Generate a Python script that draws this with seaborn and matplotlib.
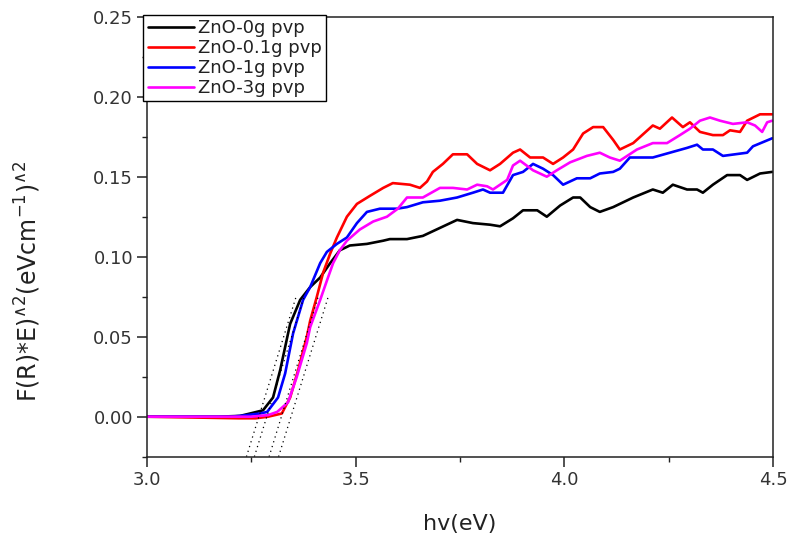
import matplotlib
matplotlib.use("Agg")
import matplotlib.pyplot as plt
import seaborn as sns
import pandas as pd
from matplotlib.ticker import MultipleLocator

# ---------------- data ----------------
labels = ["ZnO-0g pvp", "ZnO-0.1g pvp", "ZnO-1g pvp", "ZnO-3g pvp"]
colors = ["#000000", "#ff0000", "#0000ff", "#ff00ff"]

x_0g = [3.00, 3.17, 3.223, 3.247, 3.278, 3.302, 3.319, 3.338, 3.343, 3.367, 3.391, 3.415,
        3.439, 3.462, 3.486, 3.527, 3.566, 3.582, 3.623, 3.661, 3.702, 3.743, 3.781, 3.822,
        3.846, 3.877, 3.901, 3.935, 3.958, 3.990, 4.021, 4.038, 4.062, 4.085, 4.117, 4.133,
        4.165, 4.212, 4.236, 4.260, 4.294, 4.318, 4.332, 4.356, 4.390, 4.421, 4.438, 4.469, 4.498]
y_0g = [0.000, 0.000, 0.0005, 0.002, 0.004, 0.012, 0.029, 0.052, 0.058, 0.073, 0.081, 0.087,
        0.096, 0.104, 0.107, 0.108, 0.110, 0.111, 0.111, 0.113, 0.118, 0.123, 0.121, 0.120,
        0.119, 0.124, 0.129, 0.129, 0.125, 0.132, 0.137, 0.137, 0.131, 0.128, 0.131, 0.133,
        0.137, 0.142, 0.140, 0.145, 0.142, 0.142, 0.140, 0.145, 0.151, 0.151, 0.148, 0.152, 0.153]

x_01g = [3.00, 3.22, 3.26, 3.29, 3.323, 3.343, 3.362, 3.383, 3.391, 3.407, 3.422, 3.439,
         3.455, 3.479, 3.503, 3.534, 3.566, 3.589, 3.630, 3.654, 3.671, 3.685, 3.709, 3.733,
         3.767, 3.791, 3.822, 3.846, 3.877, 3.894, 3.918, 3.949, 3.973, 3.997, 4.021, 4.045,
         4.069, 4.093, 4.117, 4.133, 4.165, 4.212, 4.229, 4.258, 4.284, 4.301, 4.325, 4.356,
         4.380, 4.397, 4.421, 4.438, 4.469, 4.498]
y_01g = [0.000, -0.001, -0.001, 0.000, 0.002, 0.012, 0.029, 0.050, 0.060, 0.075, 0.090, 0.102,
         0.112, 0.125, 0.133, 0.138, 0.143, 0.146, 0.145, 0.143, 0.147, 0.153, 0.158, 0.164,
         0.164, 0.158, 0.154, 0.158, 0.165, 0.167, 0.162, 0.162, 0.158, 0.162, 0.167, 0.177,
         0.181, 0.181, 0.173, 0.167, 0.171, 0.182, 0.180, 0.187, 0.181, 0.184, 0.178, 0.176,
         0.176, 0.179, 0.178, 0.185, 0.189, 0.189]

x_1g = [3.00, 3.20, 3.223, 3.271, 3.288, 3.314, 3.331, 3.350, 3.374, 3.391, 3.415, 3.431,
        3.455, 3.479, 3.503, 3.527, 3.558, 3.599, 3.623, 3.661, 3.702, 3.743, 3.781, 3.805,
        3.822, 3.853, 3.877, 3.901, 3.925, 3.949, 3.973, 3.997, 4.030, 4.062, 4.085, 4.117,
        4.133, 4.157, 4.212, 4.253, 4.294, 4.318, 4.332, 4.356, 4.380, 4.438, 4.452, 4.498]
y_1g = [0.000, 0.000, 0.0005, 0.002, 0.003, 0.012, 0.027, 0.052, 0.073, 0.081, 0.096, 0.103,
        0.108, 0.112, 0.121, 0.128, 0.130, 0.130, 0.131, 0.134, 0.135, 0.137, 0.140, 0.142,
        0.140, 0.140, 0.151, 0.153, 0.158, 0.155, 0.151, 0.145, 0.149, 0.149, 0.152, 0.153,
        0.155, 0.162, 0.162, 0.165, 0.168, 0.170, 0.167, 0.167, 0.163, 0.165, 0.169, 0.174]

x_3g = [3.00, 3.25, 3.29, 3.312, 3.338, 3.359, 3.383, 3.391, 3.415, 3.431, 3.446, 3.462,
        3.479, 3.510, 3.542, 3.575, 3.601, 3.623, 3.661, 3.702, 3.733, 3.767, 3.791, 3.815,
        3.829, 3.863, 3.877, 3.894, 3.925, 3.958, 3.982, 4.014, 4.054, 4.085, 4.109, 4.133,
        4.174, 4.212, 4.246, 4.277, 4.301, 4.325, 4.349, 4.373, 4.404, 4.438, 4.457, 4.474,
        4.486, 4.498]
y_3g = [0.000, 0.000, 0.001, 0.003, 0.009, 0.025, 0.046, 0.056, 0.073, 0.085, 0.096, 0.104,
        0.110, 0.117, 0.122, 0.125, 0.130, 0.137, 0.137, 0.143, 0.143, 0.142, 0.145, 0.144,
        0.142, 0.148, 0.157, 0.160, 0.154, 0.150, 0.154, 0.159, 0.163, 0.165, 0.162, 0.160,
        0.167, 0.171, 0.171, 0.176, 0.180, 0.185, 0.187, 0.185, 0.183, 0.184, 0.182, 0.178,
        0.184, 0.185]

# Tauc extrapolation lines (x-intercept, slope) and their drawn y-span
tangent_eg = [3.268, 3.287, 3.322, 3.345]
tangent_slope = [0.84, 0.84, 0.85, 0.84]
tangent_y = [-0.025, 0.075]

x_ticks = [3.0, 3.5, 4.0, 4.5]
y_ticks = [0.00, 0.05, 0.10, 0.15, 0.20, 0.25]

# ---------------- build table ----------------
frames = []
for lab, xs, ys in zip(labels, [x_0g, x_01g, x_1g, x_3g], [y_0g, y_01g, y_1g, y_3g]):
    frames.append(pd.DataFrame({"hv": xs, "F": ys, "sample": lab}))
df = pd.concat(frames, ignore_index=True)

# ---------------- style ----------------
sns.set_style("ticks")
plt.rcParams["font.family"] = ["DejaVu Sans"]
plt.rcParams["mathtext.fontset"] = "dejavusans"

fig = plt.figure(figsize=(7.91, 5.33), dpi=100)
ax = fig.add_axes([147 / 791, 1 - 456.7 / 533, 626 / 791, 440 / 533])

sns.lineplot(data=df, x="hv", y="F", hue="sample", hue_order=labels,
             palette=dict(zip(labels, colors)), sort=False, estimator=None,
             lw=1.9, legend=False, ax=ax)

lines = ax.get_lines()[:4]

for eg, s in zip(tangent_eg, tangent_slope):
    xs = [eg + yy / s for yy in tangent_y]
    ax.plot(xs, tangent_y, color="black", lw=0.9, ls=(0, (1, 3)))

ax.set_xlim(3.0, 4.5)
ax.set_ylim(-0.025, 0.25)
ax.set_xticks(x_ticks)
ax.set_yticks(y_ticks)
ax.xaxis.set_minor_locator(MultipleLocator(0.25))
ax.yaxis.set_minor_locator(MultipleLocator(0.025))
ax.set_xticklabels([f"{v:.1f}" for v in x_ticks])
ax.set_yticklabels([f"{v:.2f}" for v in y_ticks])

for sp in ax.spines.values():
    sp.set_visible(True)
    sp.set_linewidth(1.1)
    sp.set_color("#222222")

ax.tick_params(axis="both", which="major", direction="out", length=7, width=1.1,
               labelsize=13, labelcolor="#333333", color="#222222", pad=3)
ax.tick_params(axis="both", which="minor", direction="out", length=3.5, width=1.0,
               color="#222222")
ax.tick_params(top=False, right=False, which="both")

ax.set_xlabel("hv(eV)", fontsize=16, color="#222222")
ax.set_ylabel(r"F(R)*E)$^{\wedge\mathrm{2}}$(eVcm$^{\mathrm{-1}}$)$^{\wedge\mathrm{2}}$",
              fontsize=17, color="#222222")
ax.xaxis.set_label_coords(0.5, -0.13)
ax.yaxis.set_label_coords(-0.166, 0.40)

leg = ax.legend(lines, labels, loc="upper left", bbox_to_anchor=(-0.0064, 1.004),
                borderaxespad=0, fontsize=13, frameon=True, fancybox=False,
                edgecolor="black", framealpha=1, handlelength=2.6, handletextpad=0.2,
                labelspacing=0.1, borderpad=0.25)
leg.get_frame().set_linewidth(1.0)
for t in leg.get_texts():
    t.set_color("#222222")

fig.savefig("out.png", dpi=100)
